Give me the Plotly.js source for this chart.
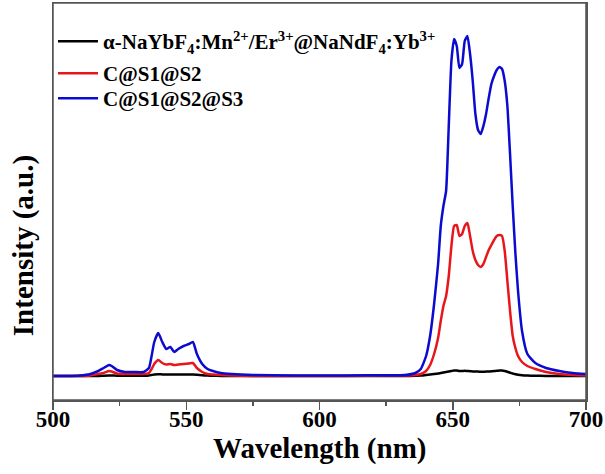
<!DOCTYPE html>
<html>
<head>
<meta charset="utf-8">
<script src="https://cdn.plot.ly/plotly-3.0.1.min.js"></script>
<style>html,body{margin:0;padding:0;background:#fff;}#chart{width:605px;height:474px;}</style>
</head>
<body>
<div id="chart"></div>
<script>
// Wavelength grid (nm)
const wavelength = [500, 505, 510, 514, 517, 519, 521, 522, 524, 527, 530, 534, 536, 537, 538, 539.5, 541, 542.5, 544, 545.5, 547, 549, 551, 552.5, 554, 556, 558, 560, 563, 567, 575, 590, 610, 625, 632, 636, 638, 640, 641.5, 643, 644.5, 645.5, 646.5, 647.5, 648.5, 649.5, 650.5, 651.5, 652.5, 653.5, 654.5, 655.5, 656.5, 657.5, 658.5, 659.5, 660.5, 661.5, 662.5, 663.5, 664.5, 665.5, 666.5, 667.5, 668.5, 669.5, 670.5, 671.5, 672.5, 673.5, 674.5, 676, 678, 681, 685, 690, 695, 700];

// Intensity (a.u.)
const coreOnly = [0, 0, 0, 0, 0, 0.3, 0.5, 0.5, 0.3, 0.2, 0.2, 0.2, 0.5, 1, 1.5, 1.8, 1.6, 1.5, 1.5, 1.5, 1.5, 1.6, 1.6, 1.6, 1.3, 0.8, 0.4, 0.2, 0.1, 0, 0, 0, 0, 0, 0, 0.2, 0.4, 1, 1.5, 2, 2.5, 3, 3.5, 4, 4.5, 5, 5.5, 5.5, 5, 5, 5.2, 5, 4.8, 4.6, 4.5, 4.4, 4.3, 4.3, 4.4, 4.5, 4.7, 5, 5.2, 5.4, 5.5, 5, 4.2, 3.3, 2.5, 1.8, 1.2, 0.7, 0.4, 0.2, 0.1, 0, 0, 0];
const cS1S2 = [0, 0, 0, 0.5, 2, 3, 5, 4.5, 2.5, 2, 2, 2, 3, 7, 12, 16, 13, 11.5, 12, 11, 11.5, 12, 12.5, 13, 8, 4, 2, 1.5, 1, 0.5, 0, 0, 0, 0.5, 0.5, 1, 2, 5, 11, 22, 38, 55, 70, 80, 100, 130, 150, 151, 140, 142, 150, 153, 140, 125, 116, 111, 109, 112, 119, 126, 131, 136, 140, 141, 140, 125, 95, 65, 40, 28, 20, 14, 10, 7, 4, 2, 1, 0.5];
const cS1S2S3 = [0, 0, 0.5, 2, 5, 8, 11, 10, 6, 4, 4, 4, 8, 20, 34, 43, 34, 27, 29, 24, 27, 30, 32, 34, 22, 12, 7, 5, 3, 2, 1, 0.5, 0.5, 0.8, 1, 3, 7, 20, 40, 72, 112, 150, 170, 185, 250, 315, 337, 330, 308, 312, 335, 340, 322, 295, 262, 246, 242, 250, 262, 278, 292, 300, 306, 309, 307, 295, 270, 222, 170, 123, 85, 45, 22, 13, 8, 5, 3, 2];

const tickValues = [500, 550, 600, 650, 700];
const minorTickValues = [525, 575, 625, 675];

const seriesNames = [
  'α-NaYbF<sub>4</sub>:Mn<sup>2+</sup>/Er<sup>3+</sup>@NaNdF<sub>4</sub>:Yb<sup>3+</sup>',
  'C@S1@S2',
  'C@S1@S2@S3'
];
const seriesValues = [coreOnly, cS1S2, cS1S2S3];
const seriesColors = ['#000000', '#e8161b', '#0b0bd0'];
const legendIds = ['legend', 'legend2', 'legend3'];

const traces = seriesValues.map((vals, i) => ({
  type: 'scatter', mode: 'lines',
  x: wavelength, y: vals, name: seriesNames[i], legend: legendIds[i],
  line: {color: seriesColors[i], width: 2.5, shape: 'spline', smoothing: 0.5}
}));

const font = 'Liberation Serif, Times New Roman, serif';
const legendFont = {family: font, size: 21, weight: 'bold', color: '#000'};
function legendAt(y) {
  return {x: 0, y: y, xanchor: 'left', yanchor: 'top', bgcolor: 'rgba(0,0,0,0)',
          font: legendFont, itemwidth: 40};
}
const layout = {
  width: 605, height: 474,
  margin: {l: 53, r: 19, t: 3, b: 74},
  paper_bgcolor: '#fff', plot_bgcolor: '#fff',
  font: {family: font, color: '#000'},
  showlegend: true,
  legend: legendAt(0.9547),
  legend2: legendAt(0.874),
  legend3: legendAt(0.811),
  xaxis: {
    range: [500, 700], tickvals: tickValues,
    ticks: 'outside', ticklen: 8, tickwidth: 1.5, tickcolor: '#555',
    minor: {tickvals: minorTickValues, ticks: 'outside', ticklen: 4, tickwidth: 1.5, tickcolor: '#555'},
    showline: true, linecolor: '#555', linewidth: 1.5, mirror: true,
    showgrid: false, zeroline: false, ticklabelstandoff: -10,
    tickfont: {family: font, size: 23, weight: 'bold', color: '#000'}
  },
  yaxis: {
    range: [-24, 373], showticklabels: false, ticks: '',
    showline: true, linecolor: '#555', linewidth: 1.5, mirror: true,
    showgrid: false, zeroline: false
  },
  shapes: [
    {type: 'rect', xref: 'paper', yref: 'paper', x0: 0, x1: 1, y0: 0, y1: 1,
     line: {color: '#555', width: 1.5}, fillcolor: 'rgba(0,0,0,0)', layer: 'above'}
  ],
  annotations: [
    {text: '<b>Wavelength (nm)</b>', xref: 'paper', yref: 'paper', x: 0.5, y: -0.122,
     xanchor: 'center', yanchor: 'middle', showarrow: false,
     font: {family: font, size: 29, color: '#000'}},
    {text: '<b>Intensity (a.u.)</b>', xref: 'paper', yref: 'paper', x: -0.0563, y: 0.39,
     xanchor: 'center', yanchor: 'middle', showarrow: false, textangle: -90,
     font: {family: font, size: 29, color: '#000'}}
  ]
};

Plotly.newPlot('chart', traces, layout, {displayModeBar: false, staticPlot: true});
</script>
</body>
</html>
